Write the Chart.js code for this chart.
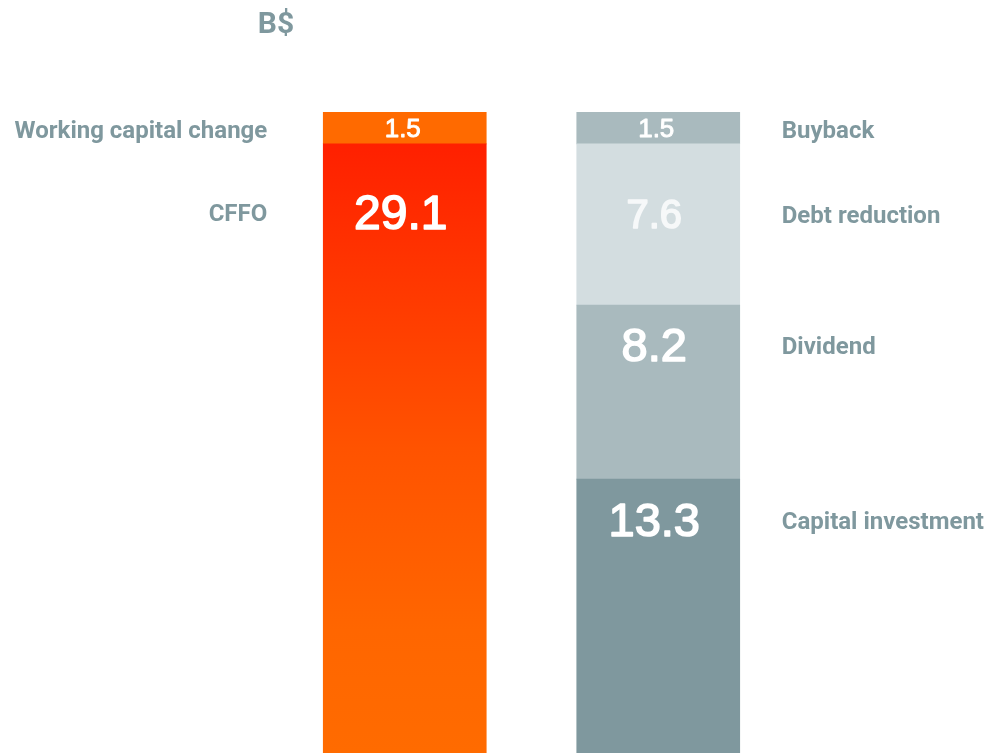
<!DOCTYPE html>
<html>
<head>
<meta charset="utf-8">
<script src="https://cdn.jsdelivr.net/npm/chart.js@4.4.1/dist/chart.umd.min.js"></script>
<style>
  html, body { margin: 0; padding: 0; background: #fff; overflow: hidden; }
  #wrap { width: 989px; height: 753px; position: relative; }
</style>
</head>
<body>
<div id="wrap"><canvas id="cashChart"></canvas></div>
<script>
// B$ - sources vs uses of cash
const columns = ['Sources', 'Uses'];
const cffo = [29.1, null];
const workingCapital = [1.5, null];
const capitalInvestment = [null, 13.3];
const dividend = [null, 8.2];
const debtReduction = [null, 7.6];
const buyback = [null, 1.5];
const unitLabel = 'B$';

const labelGrey = '#7f989e';

function cffoGradient(context) {
  const chart = context.chart;
  const area = chart.chartArea;
  if (!area) return '#ff3c00';
  const top = chart.scales.y.getPixelForValue(cffo[0]);
  const g = chart.ctx.createLinearGradient(0, top, 0, area.bottom);
  g.addColorStop(0, '#ff2000');
  g.addColorStop(0.5, '#ff5300');
  g.addColorStop(0.8, '#ff6600');
  g.addColorStop(1, '#ff6b00');
  return g;
}

// value + side labels drawn next to each segment
const segmentLabels = {
  id: 'segmentLabels',
  afterDatasetsDraw(chart) {
    const ctx = chart.ctx;
    ctx.save();
    chart.data.datasets.forEach((ds, i) => {
      const meta = chart.getDatasetMeta(i);
      meta.data.forEach((bar, j) => {
        const v = ds.data[j];
        if (v == null) return;
        const top = Math.min(bar.y, bar.base);
        const h = Math.abs(bar.base - bar.y);
        const cy = top + (ds.labelDy != null ? ds.labelDy : h / 2);

        // value, slightly heavier than regular
        const col = ds.valueColor || '#fff';
        ctx.fillStyle = col;
        ctx.strokeStyle = col;
        ctx.lineWidth = ds.valueSize > 30 ? 1.6 : 0.9;
        ctx.lineJoin = 'round';
        ctx.font = ds.valueSize + 'px "Liberation Sans", Arial, sans-serif';
        ctx.textAlign = 'center';
        ctx.textBaseline = 'alphabetic';
        const by = cy + ds.valueSize * 0.36;
        const vx = bar.x - (ds.valueSize > 30 ? 4 : 2);
        ctx.fillText(v.toFixed(1), vx, by);
        ctx.strokeText(v.toFixed(1), vx, by);

        ctx.fillStyle = labelGrey;
        ctx.font = 'bold 24px Roboto, "Noto Sans", sans-serif';
        const half = bar.width / 2;
        const ly = cy + 24 * 0.36 + 1;
        if (ds.side === 'left') {
          ctx.textAlign = 'right';
          ctx.fillText(ds.label, bar.x - half - 56, ly);
        } else {
          ctx.textAlign = 'left';
          ctx.fillText(ds.label, bar.x + half + 42, ly);
        }
      });
    });

    ctx.fillStyle = labelGrey;
    ctx.font = 'bold 30px Roboto, "Noto Sans", sans-serif';
    ctx.textAlign = 'center';
    ctx.fillText(unitLabel, chart.chartArea.left - 2, 22 + 30 * 0.36);
    ctx.restore();
  }
};

new Chart(document.getElementById('cashChart').getContext('2d'), {
  type: 'bar',
  data: {
    labels: columns,
    datasets: [
      { label: 'CFFO', data: cffo, backgroundColor: cffoGradient, side: 'left', valueSize: 48, labelDy: 68 },
      { label: 'Working capital change', data: workingCapital, backgroundColor: '#ff6a00', side: 'left', valueSize: 26 },
      { label: 'Capital investment', data: capitalInvestment, backgroundColor: '#7f989e', side: 'right', valueSize: 47, labelDy: 40 },
      { label: 'Dividend', data: dividend, backgroundColor: '#a9babe', side: 'right', valueSize: 47, labelDy: 39 },
      { label: 'Debt reduction', data: debtReduction, backgroundColor: '#d3dde0', side: 'right', valueSize: 40, labelDy: 70, valueColor: '#f6f8f9' },
      { label: 'Buyback', data: buyback, backgroundColor: '#a9babe', side: 'right', valueSize: 26 }
    ]
  },
  options: {
    responsive: true,
    maintainAspectRatio: false,
    animation: false,
    layout: { padding: { top: 112, left: 278, right: 204, bottom: 0 } },
    datasets: { bar: { barThickness: 163, borderWidth: 0 } },
    scales: {
      x: { stacked: true, display: false },
      y: { stacked: true, display: false, min: 0.4, max: 30.6 }
    },
    plugins: {
      legend: { display: false },
      tooltip: { enabled: false }
    }
  },
  plugins: [segmentLabels]
});
</script>
</body>
</html>
